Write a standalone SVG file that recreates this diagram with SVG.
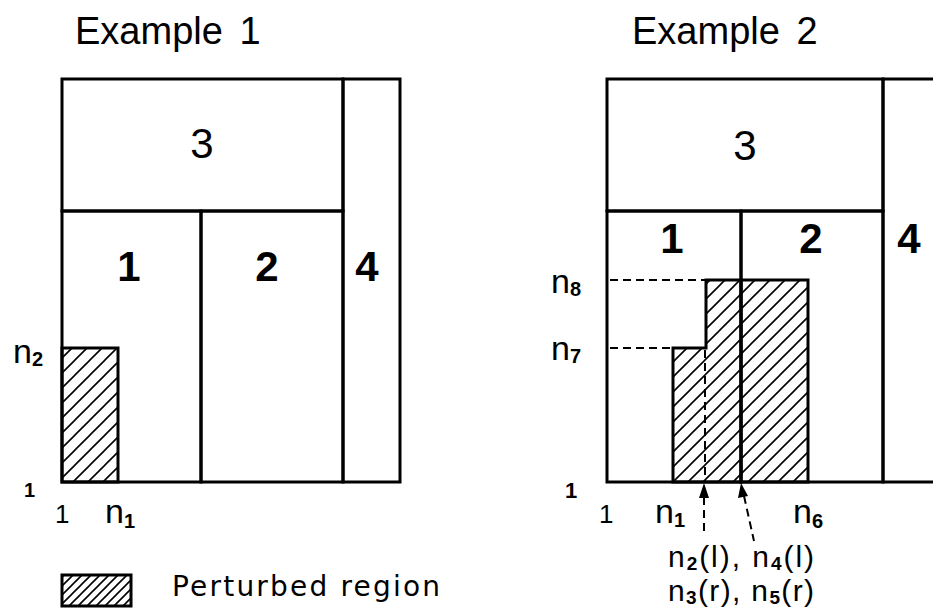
<svg xmlns="http://www.w3.org/2000/svg" width="933" height="610" viewBox="0 0 933 610">
<style>
.ln{stroke:#000;stroke-width:3;fill:none;stroke-linecap:square}
.hb{stroke:#000;stroke-width:3}
.dash{stroke:#000;stroke-width:2;fill:none;stroke-dasharray:8 5}
.t{font-family:"Liberation Sans",Arial,sans-serif;fill:#000}
.title{font-size:38px;word-spacing:6px}
.num{font-size:42px;text-anchor:middle}
.b{font-weight:bold}
.n{font-size:34px}
.s{font-size:20px;font-weight:bold}
</style>
<defs>
<pattern id="h1" patternUnits="userSpaceOnUse" width="15" height="15">
<path d="M-2,17 L17,-2 M-2,2 L2,-2 M13,17 L17,13" stroke="#000" stroke-width="1.6"/>
</pattern>
<pattern id="h2" patternUnits="userSpaceOnUse" width="9" height="9">
<path d="M-2,11 L11,-2 M-2,2 L2,-2 M7,11 L11,7" stroke="#000" stroke-width="1.6"/>
</pattern>
</defs>
<rect width="933" height="610" fill="#fff"/>

<g id="example1">
<text class="t title" x="75" y="44">Example 1</text>
<g id="ex1-region3"><rect class="ln" x="62" y="79" width="281" height="132"/><text class="t num" x="202" y="158">3</text></g>
<g id="ex1-region1"><rect class="ln" x="62" y="211" width="139" height="271"/><text class="t num b" x="129" y="281">1</text></g>
<g id="ex1-region2"><rect class="ln" x="201" y="211" width="142" height="271"/><text class="t num b" x="267" y="281">2</text></g>
<g id="ex1-region4"><rect class="ln" x="343" y="79" width="57" height="403"/><text class="t num b" x="367" y="281">4</text></g>
<g id="ex1-perturbed"><rect class="hb" x="62" y="348" width="56" height="134" fill="url(#h1)"/></g>
<g id="ex1-labels">
<text class="t n" x="13" y="363">n<tspan class="s" dy="3">2</tspan></text>
<text class="t b" x="24" y="497" font-size="20">1</text>
<text class="t" x="55" y="523" font-size="26">1</text>
<text class="t n" x="105" y="523">n<tspan class="s" dy="5">1</tspan></text>
</g>
</g>

<g id="legend">
<rect class="hb" x="62" y="575" width="69" height="31" fill="url(#h2)"/>
<text x="172" y="596" font-family="'DejaVu Sans',sans-serif" font-size="28" textLength="268" lengthAdjust="spacing">Perturbed region</text>
</g>

<g id="example2">
<text class="t title" x="632" y="44">Example 2</text>
<g id="ex2-region3"><rect class="ln" x="607" y="79" width="276" height="132"/><text class="t num" x="745" y="160">3</text></g>
<g id="ex2-region1"><rect class="ln" x="607" y="211" width="134" height="271"/><text class="t num b" x="672" y="253">1</text></g>
<g id="ex2-region2"><rect class="ln" x="741" y="211" width="142" height="271"/><text class="t num b" x="811" y="253">2</text></g>
<g id="ex2-region4"><path class="ln" d="M883,79 L935,79 M883,79 L883,482 L935,482"/><text class="t num b" x="909" y="253">4</text></g>
<g id="ex2-perturbed">
<path class="hb" d="M673,482 L673,348 L706,348 L706,280 L808,280 L808,482 Z" fill="url(#h1)"/>
<line class="ln" x1="741" y1="280" x2="741" y2="482"/>
</g>
<g id="ex2-labels">
<text class="t n" x="551" y="293">n<tspan class="s" dy="3">8</tspan></text>
<text class="t n" x="551" y="360">n<tspan class="s" dy="3">7</tspan></text>
<text class="t b" x="565" y="498" font-size="22">1</text>
<text class="t" x="599" y="523" font-size="26">1</text>
<text class="t n" x="655" y="523">n<tspan class="s" dy="4">1</tspan></text>
<text class="t n" x="793" y="523">n<tspan class="s" dy="5">6</tspan></text>
<text class="t" x="668" y="567" font-size="30" textLength="146" lengthAdjust="spacing">n<tspan font-size="19" font-weight="bold" dy="3">2</tspan><tspan dy="-3">(l), n</tspan><tspan font-size="19" font-weight="bold" dy="3">4</tspan><tspan dy="-3">(l)</tspan></text>
<text class="t" x="668" y="601" font-size="30" textLength="146" lengthAdjust="spacing">n<tspan font-size="19" font-weight="bold" dy="3">3</tspan><tspan dy="-3">(r), n</tspan><tspan font-size="19" font-weight="bold" dy="3">5</tspan><tspan dy="-3">(r)</tspan></text>
</g>
</g>

<g id="connectors">
<line class="dash" x1="610" y1="280" x2="706" y2="280"/>
<line class="dash" x1="610" y1="348" x2="673" y2="348"/>
<line class="dash" x1="705" y1="350" x2="705" y2="482"/>
<line class="dash" x1="704" y1="497" x2="704" y2="535"/>
<polygon points="704,483 699,498 709,498" fill="#000"/>
<line class="dash" x1="744" y1="496" x2="754" y2="541"/>
<polygon points="741,483 738,498 748,496" fill="#000"/>
</g>
</svg>
